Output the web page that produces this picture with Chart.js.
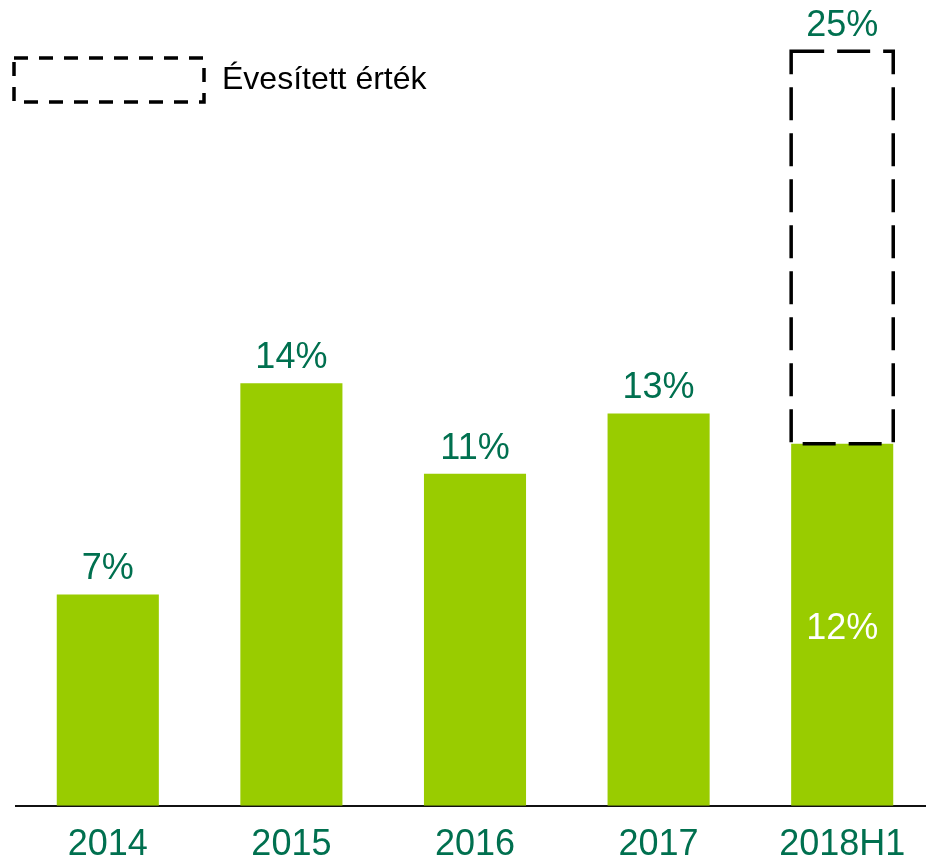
<!DOCTYPE html>
<html>
<head>
<meta charset="utf-8">
<script src="https://cdn.jsdelivr.net/npm/chart.js@4/dist/chart.umd.min.js"></script>
<style>
  html, body { margin:0; padding:0; background:#fff; overflow:hidden; }
  #wrap { position:relative; width:934px; height:885px; }
</style>
</head>
<body>
<div id="wrap"><canvas id="chart"></canvas></div>
<script>
// data
const years = ['2014', '2015', '2016', '2017', '2018H1'];
const actual = [7, 14, 11, 13, 12];
const annualized = [null, null, null, null, 25];
const legendText = 'Évesített érték';

const barGreen = '#99CC00';
const textGreen = '#00704F';
const font = 'Liberation Sans, Arial, sans-serif';

//Floating bar from the H1 value up to the annualized one
const annualBars = annualized.map((v, i) => v == null ? null : [actual[i], v]);

//dashed box + value labels + legend, all drawn from the bar elements
const overlay = {
  id: 'overlay',
  afterDatasetsDraw(chart) {
    const ctx = chart.ctx;
    ctx.save();
    // dashed annualized box
    const meta1 = chart.getDatasetMeta(1);
    meta1.data.forEach((bar, i) => {
      if (annualized[i] == null) return;
      const p = bar.getProps(['x', 'y', 'base', 'width'], true);
      ctx.strokeStyle = '#000';
      ctx.lineWidth = 3.5;
      ctx.setLineDash([33, 13]);
      ctx.strokeRect(p.x - p.width / 2, p.y, p.width, p.base - p.y);
    });
    ctx.setLineDash([]);

    ctx.font = '36px ' + font;
    ctx.textAlign = 'center';
    ctx.textBaseline = 'middle';
    const meta0 = chart.getDatasetMeta(0);
    meta0.data.forEach((bar, i) => {
      const p = bar.getProps(['x', 'y', 'base'], true);
      if (annualized[i] != null) {
        ctx.fillStyle = '#fff';
        ctx.fillText(actual[i] + '%', p.x, (p.y + p.base) / 2 + 4);
      } else {
        ctx.fillStyle = textGreen;
        ctx.fillText(actual[i] + '%', p.x, p.y - 25);
      }
    });
    meta1.data.forEach((bar, i) => {
      if (annualized[i] == null) return;
      const p = bar.getProps(['x', 'y'], true);
      ctx.fillStyle = textGreen;
      ctx.fillText(annualized[i] + '%', p.x, p.y - 25);
    });

    // legend
    ctx.strokeStyle = '#000';
    ctx.lineWidth = 3.5;
    ctx.setLineDash([14, 11]);
    ctx.strokeRect(14, 58, 190, 44);
    ctx.setLineDash([]);
    ctx.fillStyle = '#000';
    ctx.textAlign = 'left';
    ctx.font = '32px ' + font;
    ctx.fillText(legendText, 222, 80);
    ctx.restore();
  }
};

new Chart(document.getElementById('chart'), {
  type: 'bar',
  data: {
    labels: years,
    datasets: [
      {
        label: 'Tény',
        data: actual,
        backgroundColor: barGreen,
        borderWidth: 0,
        categoryPercentage: 1,
        barPercentage: 0.556
      },
      {
        label: legendText,
        data: annualBars,
        backgroundColor: 'rgba(0,0,0,0)',
        borderWidth: 0,
        categoryPercentage: 1,
        barPercentage: 0.556,
        grouped: false
      }
    ]
  },
  options: {
    responsive: true,
    maintainAspectRatio: false,
    animation: false,
    layout: { padding: { left: 16, right: 0, top: 0, bottom: 0 } },
    plugins: {
      legend: { display: false },
      tooltip: { enabled: false }
    },
    scales: {
      x: {
        grid: { display: false, drawTicks: false },
        border: { display: true, color: '#111', width: 2 },
        ticks: { color: textGreen, font: { size: 36, family: font }, padding: 18 }
      },
      y: {
        display: false,
        min: 0,
        max: 26.7
      }
    }
  },
  plugins: [overlay]
});
</script>
</body>
</html>
